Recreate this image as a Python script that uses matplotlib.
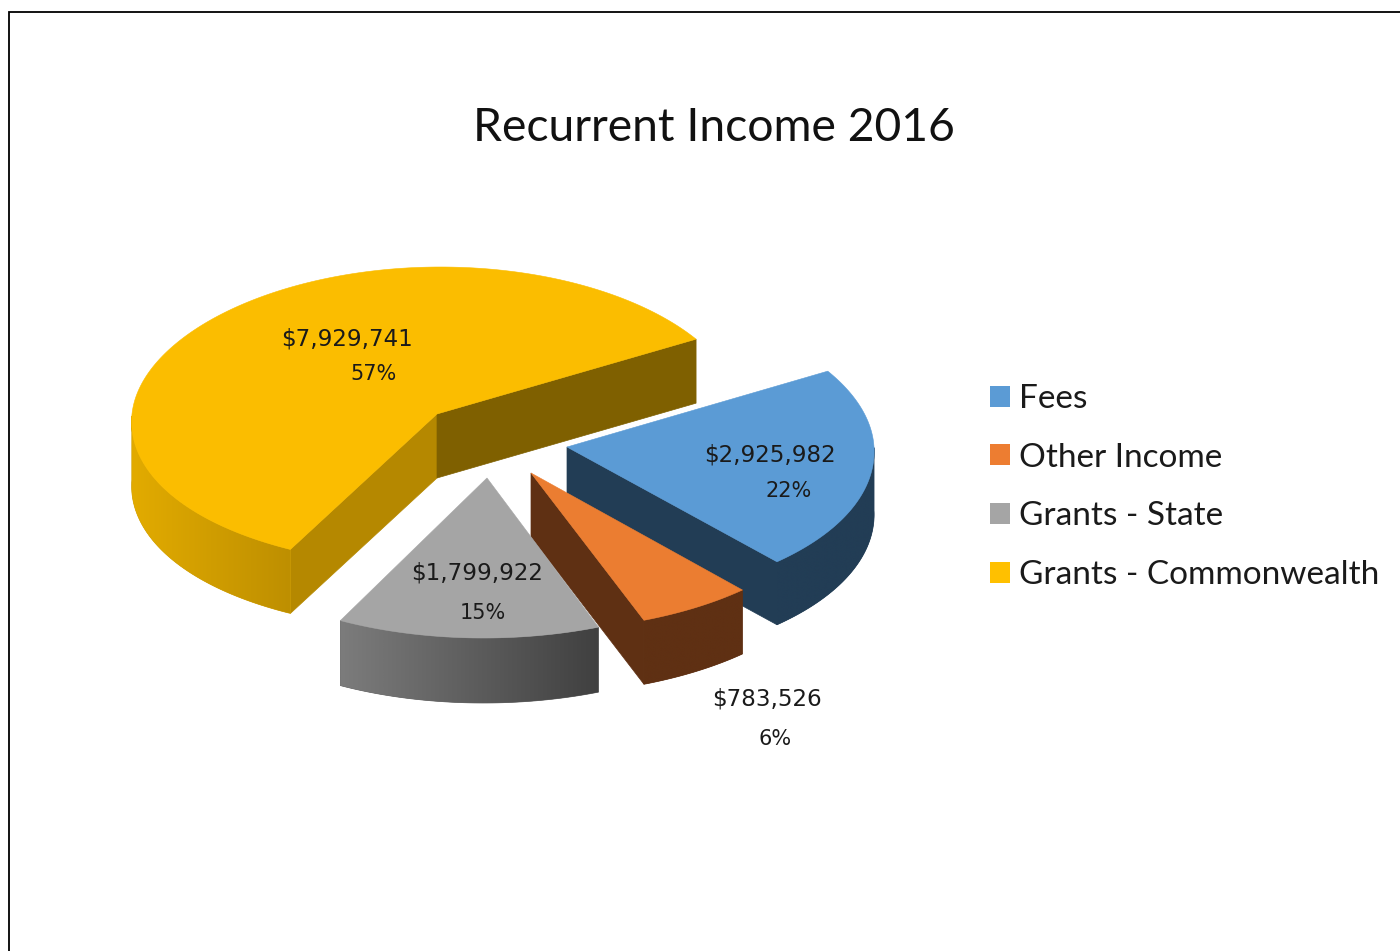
import numpy as np
import matplotlib
matplotlib.use("Agg")
import matplotlib.pyplot as plt
from matplotlib.patches import Polygon, Patch
from matplotlib.colors import to_rgb

# ---- data ----
categories = ["Fees", "Other Income", "Grants - State", "Grants - Commonwealth"]
values = [2925982, 783526, 1799922, 7929741]
percent_labels = ["22%", "6%", "15%", "57%"]
title = "Recurrent Income 2016"

# ---- style / layout ----
top_colors = ["#5B9BD5", "#EB7D31", "#A5A5A5", "#FBBD00"]
legend_colors = ["#5B9BD5", "#ED7D31", "#A5A5A5", "#FFC000"]
start_angle = 30.6
apex_x = [567, 531, 487, 437]
apex_y = [447, 473, 478, 414]
ry_back = [149, 155, 155, 147]
ry_front = [155, 158, 160, 152]
depths = [63, 64, 65, 64]
radii_x = [307, 309, 305, 305]
persp = 0.04
shear = 3.5
wall_from = ["#223D55", "#5F3013", "#7C7C7C", "#E2AB00"]
wall_to = ["#223D55", "#5F3013", "#404040", "#BE8F00"]
cut_start = [None, None, None, "#B58800"]
cut_end = ["#223D55", "#5F3013", None, "#7F6000"]
value_pos = [(770, 455), (767, 699), (477, 573), (347, 339)]
pct_pos = [(789, 491), (775, 739), (483, 613), (373, 374)]

fig = plt.figure(figsize=(14, 9.51), dpi=100, facecolor="white")
ax = fig.add_axes([0, 0, 1, 1])
ax.set_xlim(0, 1400)
ax.set_ylim(951, 0)
ax.axis("off")

ax.plot([9, 9, 1400], [951, 12, 12], color="#000000", lw=1.3, solid_joinstyle="miter")


def rim(cx, cy, theta, i):
    s = np.sin(np.radians(theta))
    c = np.cos(np.radians(theta))
    ry = np.where(s > 0, ry_back[i], ry_front[i])
    return cx + radii_x[i] * c / (1 + persp * s) + shear * s, cy - ry * s


def quad(p, q, d, color, z):
    pts = [p, q, (q[0], q[1] + d), (p[0], p[1] + d)]
    ax.add_patch(Polygon(pts, closed=True, fc=color, ec=color, lw=0.5, zorder=z))


fractions = np.array(values) / np.sum(values)
draw_order = [3, 0, 1, 2]
spans = fractions * 360
starts = start_angle - np.concatenate([[0], np.cumsum(spans)[:-1]])

for z, i in enumerate(draw_order):
    a0 = starts[i]
    a1 = a0 - spans[i]
    cx, cy, d = apex_x[i], apex_y[i], depths[i]
    base = 10 * (z + 1)
    theta = np.linspace(a0, a1, 240)
    xs, ys = rim(cx, cy, theta, i)

    # radial cut faces
    if np.sin(np.radians(a0 + 90)) < 0:
        quad((cx, cy), rim(cx, cy, a0, i), d, cut_start[i], base)
    if np.sin(np.radians(a1 - 90)) < 0:
        quad((cx, cy), rim(cx, cy, a1, i), d, cut_end[i], base)

    # outer wall, only where it faces the viewer, with a left-to-right gradient
    front = np.where(np.sin(np.radians(theta)) <= 0)[0]
    fx, fy = xs[front], ys[front]
    wall_pts = np.vstack([np.column_stack([fx, fy]),
                          np.column_stack([fx[::-1], fy[::-1] + d])])
    c_a, c_b = np.array(to_rgb(wall_from[i])), np.array(to_rgb(wall_to[i]))
    grad = c_a + (c_b - c_a) * np.linspace(0, 1, 256)[:, None]
    under = tuple((c_a + c_b) / 2)
    clip = Polygon(wall_pts, closed=True, fc=under, ec=under, lw=0.5, zorder=base)
    ax.add_patch(clip)
    im = ax.imshow(grad[None, :, :], extent=(fx.min(), fx.max(), fy.max() + d, fy.min()),
                   aspect="auto", zorder=base + 1, interpolation="bilinear")
    im.set_clip_path(clip)

    # top face
    top = [(cx, cy)] + list(zip(xs, ys))
    ax.add_patch(Polygon(top, closed=True, fc=top_colors[i], ec=top_colors[i], lw=0.4, zorder=base + 2))

ax.set_xlim(0, 1400)
ax.set_ylim(951, 0)

for v, p, vp, pp in zip(values, percent_labels, value_pos, pct_pos):
    ax.text(vp[0], vp[1], f"${v:,}", ha="center", va="center", fontsize=16.6,
            family="DejaVu Sans", color="#1a1a1a", zorder=100)
    ax.text(pp[0], pp[1], p, ha="center", va="center", fontsize=15,
            family="DejaVu Sans", color="#1a1a1a", zorder=100)

ax.text(714, 128, title, ha="center", va="center", fontsize=33.3, family="Lato", color="#111111")

handles = [Patch(fc=c, ec="none") for c in legend_colors]
leg = ax.legend(handles, categories, loc="upper left", bbox_to_anchor=(990 / 1400, 1 - 384 / 951),
                bbox_transform=ax.transAxes, frameon=False, borderpad=0, borderaxespad=0,
                prop={"family": "Lato", "size": 24}, labelcolor="#1a1a1a",
                handlelength=0.6, handleheight=0.6, handletextpad=0.27, labelspacing=0.86)

fig.savefig("out.png", dpi=100, facecolor="white")
